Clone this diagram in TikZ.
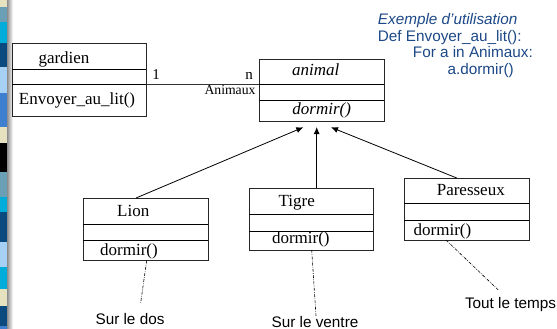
\documentclass[tikz,border=0pt]{standalone}
\usepackage{fontspec}
\setmainfont{Liberation Serif}
\newfontfamily\arialf{Liberation Sans}
\usetikzlibrary{arrows.meta}
\definecolor{codeblue}{RGB}{28,72,135}
\definecolor{stbeige}{RGB}{230,226,192}
\definecolor{ststeel}{RGB}{106,159,181}
\definecolor{stcyan}{RGB}{0,172,218}
\definecolor{stdark}{RGB}{10,74,126}
\definecolor{stlight}{RGB}{167,208,245}
\definecolor{stmed}{RGB}{63,127,208}
\begin{document}
\begin{tikzpicture}[x=1pt,y=-1pt,
  classbox/.style={draw=black!85,line width=0.9pt,rectangle,anchor=north west,inner sep=0pt,outer sep=0pt},
  divider/.style={draw=black,line width=0.9pt},
  serif/.style={font=\fontsize{17}{20}\selectfont,inner sep=0pt,anchor=base},
  smallserif/.style={font=\fontsize{13.7}{16}\selectfont,inner sep=0pt,anchor=base},
  sans/.style={font=\arialf\fontsize{15.3}{18}\selectfont,inner sep=0pt,anchor=base},
  code/.style={font=\arialf\fontsize{15.3}{18}\selectfont,text=codeblue,inner sep=0pt,anchor=base west},
  inherit/.style={draw=black,line width=0.8pt,-{Latex[length=7pt,width=6pt]}},
  noteline/.style={draw=black,line width=0.6pt,dash pattern=on 3pt off 1.3pt on 0.7pt off 1.3pt}]
\useasboundingbox (0,0) rectangle (557,329);
% decorative left strip
\fill[stbeige] (0,0) rectangle (7,7);
\fill[ststeel] (0,7) rectangle (7,22);
\fill[stcyan] (0,22) rectangle (7,43);
\fill[stdark] (0,43) rectangle (7,67);
\fill[stlight] (0,67) rectangle (7,93);
\fill[stmed] (0,93) rectangle (7,127);
\fill[stbeige] (0,127) rectangle (7,143);
\fill[black] (0,143) rectangle (7,172);
\fill[ststeel] (0,172) rectangle (7,197);
\fill[stcyan] (0,197) rectangle (7,212);
\fill[stdark] (0,212) rectangle (7,242);
\fill[stlight] (0,242) rectangle (7,267);
\fill[stcyan] (0,267) rectangle (7,289);
\fill[stbeige] (0,289) rectangle (7,306);
\fill[stdark] (0,306) rectangle (7,326);
\fill[stmed] (0,326) rectangle (7,329);
\shade[left color=black!45,right color=white] (7,0) rectangle (13,329);
% class boxes
\node[classbox,minimum width=134pt,minimum height=73pt] (gardien) at (12,43) {};
\draw[divider] (12,69) -- (146,69);
\draw[divider] (12,84) -- (146,84);
\node[classbox,minimum width=125pt,minimum height=62pt] (animal) at (259,59) {};
\draw[divider] (259,84) -- (384,84);
\draw[divider] (259,100) -- (384,100);
\node[classbox,minimum width=125pt,minimum height=62.5pt] (lion) at (83,198) {};
\draw[divider] (83,224) -- (208,224);
\draw[divider] (83,240) -- (208,240);
\node[classbox,minimum width=124pt,minimum height=62pt] (tigre) at (249,188) {};
\draw[divider] (249,214) -- (373,214);
\draw[divider] (249,231) -- (373,231);
\node[classbox,minimum width=125pt,minimum height=62pt] (paresseux) at (404,178) {};
\draw[divider] (404,203) -- (529,203);
\draw[divider] (404,220) -- (529,220);
% class texts
\node[serif] (tgardien) at (64,63.3) {gardien};
\node[serif] (tenvoyer) at (77,104) {Envoyer\_au\_lit()};
\node[serif,font=\itshape\fontsize{17}{20}\selectfont] (tanimal) at (315.7,76) {animal};
\node[serif,font=\itshape\fontsize{17}{20}\selectfont] (tdormA) at (321.7,114) {dormir()};
\node[serif] (tlion) at (133.3,216) {Lion};
\node[serif] (tdormL) at (129,255) {dormir()};
\node[serif] (ttigre) at (296.7,206.7) {Tigre};
\node[serif] (tdormT) at (300.8,243.3) {dormir()};
\node[serif] (tpar) at (470.8,195) {Paresseux};
\node[serif] (tdormP) at (442.5,235) {dormir()};
% association
\coordinate (assocy) at (0,84);
\draw[line width=0.8pt,draw=black!80] (gardien.east |- assocy) -- (animal.west |- assocy);
\node[smallserif,font=\fontsize{15}{17}\selectfont] (mult1) at (156,80) {1};
\node[smallserif,font=\fontsize{15}{17}\selectfont] (multn) at (249,80) {n};
\node[smallserif] (role) at (230,95) {Animaux};
% inheritance
\draw[inherit] ([xshift=-9.5pt]lion.north) -- ([xshift=-18.2pt,yshift=-6.3pt]animal.south);
\draw[inherit] ([xshift=5.7pt]tigre.north) -- ([xshift=-4.8pt,yshift=-6pt]animal.south);
\draw[inherit] ([xshift=-9.8pt]paresseux.north) -- ([xshift=9.5pt,yshift=-6.3pt]animal.south);
% notes
\coordinate (nl) at (140.7,302.7);
\coordinate (nt) at (316,316);
\coordinate (np) at (498.3,290);
\draw[noteline] ([xshift=1.2pt]lion.south) -- (nl);
\draw[noteline] ([xshift=0.7pt]tigre.south) -- (nt);
\draw[noteline] ([xshift=-20.5pt]paresseux.south) -- (np);
\node[sans] (sdos) at (130,324) {Sur le dos};
\node[sans] (sventre) at (315,327.5) {Sur le ventre};
\node[sans] (stemps) at (510.5,308) {Tout le temps};
% code example
\node[code,font=\arialf\itshape\fontsize{15.3}{18}\selectfont] (c1) at (377.7,24.5) {Exemple d’utilisation};
\node[code] (c2) at (377.7,41.5) {Def Envoyer\_au\_lit():};
\node[code] (c3) at (412.7,58) {For a in Animaux:};
\node[code] (c4) at (447.3,74.5) {a.dormir()};
\end{tikzpicture}
\end{document}
